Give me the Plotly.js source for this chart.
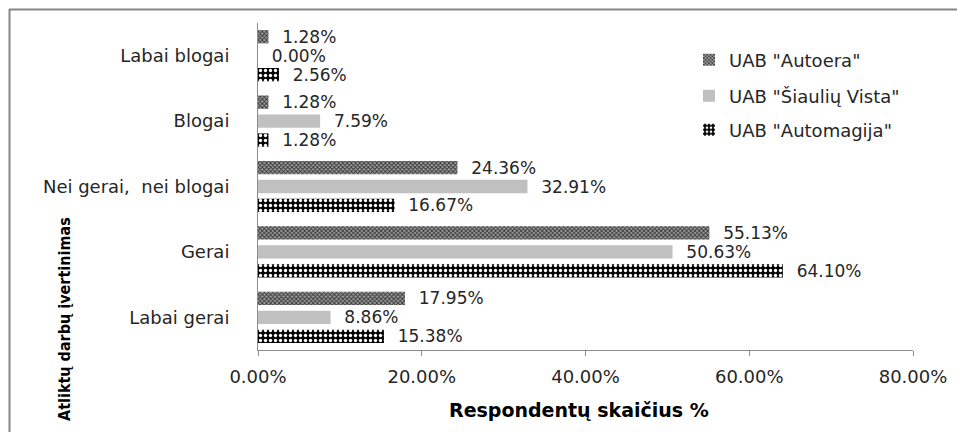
<!DOCTYPE html>
<html>
<head>
<meta charset="utf-8">
<script src="https://cdn.plot.ly/plotly-3.0.1.min.js"></script>
<style>
  html, body { margin: 0; padding: 0; background: #fff; }
  #chart { width: 957px; height: 432px; }
</style>
</head>
<body>
<div id="chart"></div>
<script>
// Ratings of completed work, share of respondents per company (%)
const categories = ["Labai blogai", "Blogai", "Nei gerai,\u00a0 nei blogai", "Gerai", "Labai gerai"];
const seriesNames = ['UAB "Autoera"', 'UAB "Šiaulių Vista"', 'UAB "Automagija"'];
const autoera = [1.28, 1.28, 24.36, 55.13, 17.95];
const siauliuVista = [0.00, 7.59, 32.91, 50.63, 8.86];
const automagija = [2.56, 1.28, 16.67, 64.10, 15.38];
const xTicks = [0, 20, 40, 60, 80];
const yTitle = "Atliktų darbų įvertinimas";
const xTitle = "Respondentų skaičius %";

const FONT = "DejaVu Sans";
const TXT = "#262626";
const FS = 18;

function barTrace(name, values, pattern, legendId) {
  return {
    type: "bar",
    orientation: "h",
    name: name,
    x: values,
    y: categories,
    legend: legendId,
    marker: { color: pattern.bgcolor, line: { width: 0 }, pattern: pattern },
    texttemplate: "\u00a0\u00a0%{x:.2f}%",
    textposition: "outside",
    constraintext: "none",
    cliponaxis: false,
    textfont: { family: FONT, size: 17, color: TXT },
    hoverinfo: "x+y+name"
  };
}

const traces = [
  barTrace(seriesNames[0], autoera,
    { shape: "x", size: 3, solidity: 0.5, fgcolor: "#333333", bgcolor: "#a0a0a0", fillmode: "replace" }, "legend"),
  barTrace(seriesNames[1], siauliuVista,
    { shape: "", bgcolor: "#c0c0c0", fgcolor: "#c0c0c0" }, "legend2"),
  barTrace(seriesNames[2], automagija,
    { shape: ".", size: 5, solidity: 0.35, fgcolor: "#ffffff", bgcolor: "#000000", fillmode: "replace" }, "legend3")
];

// plot area in pixels: x 258..913, y 23..350
const L = 258, R = 44, T = 23, B = 82, W = 957, H = 432;
const pw = W - L - R, ph = H - T - B;
const px = v => (v - L) / pw;           // pixel x -> paper x
const py = v => 1 - (v - T) / ph;       // pixel y -> paper y

const legendBase = {
  xanchor: "left", yanchor: "middle",
  bgcolor: "rgba(0,0,0,0)",
  font: { family: FONT, size: FS, color: TXT },
  itemwidth: 30
};

const layout = {
  width: W, height: H,
  margin: { l: L, r: R, t: T, b: B, pad: 0 },
  paper_bgcolor: "#ffffff",
  plot_bgcolor: "#ffffff",
  font: { family: FONT, size: FS, color: TXT },
  barmode: "group",
  bargap: 0.13,
  bargroupgap: 0.3,
  showlegend: true,
  legend:  Object.assign({ x: px(689), y: py(60) }, legendBase),
  legend2: Object.assign({ x: px(689), y: py(96) }, legendBase),
  legend3: Object.assign({ x: px(689), y: py(130) }, legendBase),
  xaxis: {
    range: [0, 80],
    tickvals: xTicks,
    ticktext: xTicks.map(v => v.toFixed(2) + "%"),
    ticks: "outside",
    ticklen: 5,
    tickcolor: "#8c8c8c",
    showline: true,
    linecolor: "#8c8c8c",
    linewidth: 1,
    showgrid: false,
    zeroline: false,
    ticklabelstandoff: 5,
    tickfont: { family: FONT, size: FS, color: TXT },
    fixedrange: true
  },
  yaxis: {
    type: "category",
    autorange: "reversed",
    showline: true,
    linecolor: "#8c8c8c",
    linewidth: 1,
    ticks: "",
    showgrid: false,
    zeroline: false,
    ticklabelstandoff: 24,
    tickfont: { family: FONT, size: FS, color: TXT },
    fixedrange: true
  },
  annotations: [
    {
      text: "<b>" + yTitle + "</b>",
      xref: "paper", yref: "paper",
      x: px(64), y: py(319),
      xanchor: "center", yanchor: "middle",
      textangle: -90, showarrow: false,
      font: { family: "DejaVu Sans Condensed", size: 16, color: "#000" }
    },
    {
      text: "<b>" + xTitle + "</b>",
      xref: "paper", yref: "paper",
      x: px(579), y: py(410),
      xanchor: "center", yanchor: "middle",
      showarrow: false,
      font: { family: FONT, size: 19, color: "#000" }
    }
  ],
  shapes: [
    // outer frame: top and left edges
    { type: "line", xref: "paper", yref: "paper", x0: px(9), x1: px(960), y0: py(9.5), y1: py(9.5),
      line: { color: "#878787", width: 2 } },
    { type: "line", xref: "paper", yref: "paper", x0: px(9.5), x1: px(9.5), y0: py(9), y1: py(440),
      line: { color: "#878787", width: 2 } }
  ]
};

Plotly.newPlot("chart", traces, layout, { displayModeBar: false, staticPlot: true });
</script>
</body>
</html>
